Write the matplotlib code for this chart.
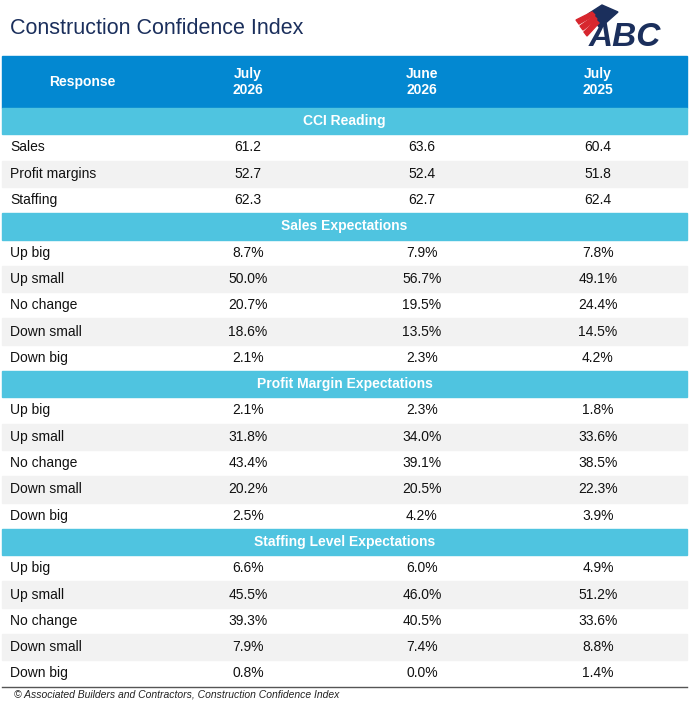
import matplotlib
matplotlib.use("Agg")
import matplotlib.pyplot as plt
from matplotlib.patches import Rectangle, Polygon

columns = ["July\n2026", "June\n2026", "July\n2025"]
sections = ["CCI Reading", "Sales Expectations", "Profit Margin Expectations", "Staffing Level Expectations"]
cci_labels = ["Sales", "Profit margins", "Staffing"]
cci_jul26 = [61.2, 52.7, 62.3]
cci_jun26 = [63.6, 52.4, 62.7]
cci_jul25 = [60.4, 51.8, 62.4]
exp_labels = ["Up big", "Up small", "No change", "Down small", "Down big"]
sales_jul26 = [8.7, 50.0, 20.7, 18.6, 2.1]
sales_jun26 = [7.9, 56.7, 19.5, 13.5, 2.3]
sales_jul25 = [7.8, 49.1, 24.4, 14.5, 4.2]
profit_jul26 = [2.1, 31.8, 43.4, 20.2, 2.5]
profit_jun26 = [2.3, 34.0, 39.1, 20.5, 4.2]
profit_jul25 = [1.8, 33.6, 38.5, 22.3, 3.9]
staff_jul26 = [6.6, 45.5, 39.3, 7.9, 0.8]
staff_jun26 = [6.0, 46.0, 40.5, 7.4, 0.0]
staff_jul25 = [4.9, 51.2, 33.6, 8.8, 1.4]

plt.rcParams['font.family'] = ['Liberation Sans', 'DejaVu Sans']
fig = plt.figure(figsize=(7.0, 7.12), dpi=100)
ax = fig.add_axes([0, 0, 1, 1])
ax.set_xlim(0, 700); ax.set_ylim(712, 0); ax.axis('off')

X0, X1 = 2, 687
colx = [248, 422, 598]
navy = "#1b2f5c"
ax.text(10, 28, "Construction Confidence Index", fontsize=15.5, color=navy, va='center')

# logo
ax.add_patch(Polygon([[588, 14], [602, 5], [618, 12], [600, 28]], color=navy))
for k in range(3):
    ax.add_patch(Polygon([[576 + k * 4, 20 + k * 6], [592 + k * 2, 12 + k * 4], [595 + k * 2, 15 + k * 4], [579 + k * 4, 24 + k * 6]], color="#d7262e"))
ax.text(625, 37, "ABC", fontsize=24, fontweight='bold', color=navy, ha='center', va='center', fontstyle='italic')

# header
ax.add_patch(Rectangle((X0, 56), X1 - X0, 52, color="#0388d1"))
ax.text(82, 82, "Response", fontsize=10, fontweight='bold', color='white', ha='center', va='center')
for x, c in zip(colx, columns):
    ax.text(x, 82, c, fontsize=10, fontweight='bold', color='white', ha='center', va='center', linespacing=1.2)

rh = 26.3
y = 108
def section(title):
    global y
    ax.add_patch(Rectangle((X0, y), X1 - X0, rh, color="#4fc4e0"))
    ax.text((X0 + X1) / 2, y + rh / 2, title, fontsize=10, fontweight='bold', color='white', ha='center', va='center')
    y += rh

def rows(labels, a, b, c, fmt):
    global y
    for i, lab in enumerate(labels):
        if i % 2 == 1:
            ax.add_patch(Rectangle((X0, y), X1 - X0, rh, color="#f2f2f2"))
        ax.text(10, y + rh / 2, lab, fontsize=10, color='#111111', va='center')
        for x, v in zip(colx, (a[i], b[i], c[i])):
            ax.text(x, y + rh / 2, fmt.format(v), fontsize=10, color='#111111', ha='center', va='center')
        y += rh

section(sections[0]); rows(cci_labels, cci_jul26, cci_jun26, cci_jul25, "{:.1f}")
section(sections[1]); rows(exp_labels, sales_jul26, sales_jun26, sales_jul25, "{:.1f}%")
section(sections[2]); rows(exp_labels, profit_jul26, profit_jun26, profit_jul25, "{:.1f}%")
section(sections[3]); rows(exp_labels, staff_jul26, staff_jun26, staff_jul25, "{:.1f}%")
ax.plot([X0, X1], [y, y], color='#555555', lw=1)
ax.text(14, y + 8, "© Associated Builders and Contractors, Construction Confidence Index", fontsize=7.5, fontstyle='italic', color='#222222', va='center')
fig.savefig("out.png", dpi=100)
